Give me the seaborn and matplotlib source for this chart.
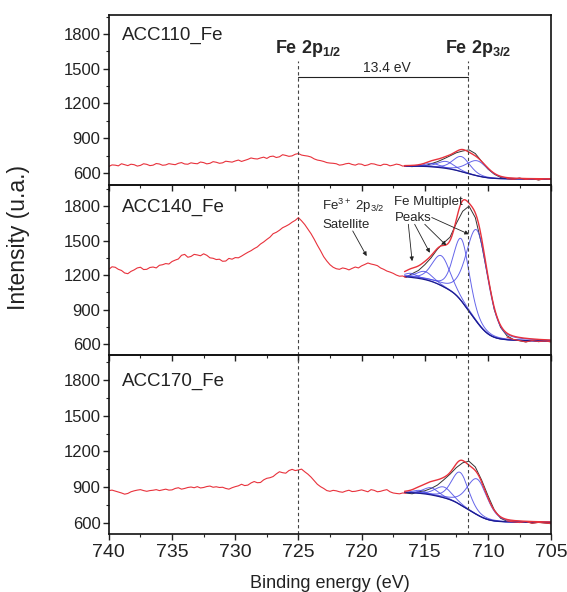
import numpy as np
import pandas as pd
import matplotlib
matplotlib.use("Agg")
import matplotlib.pyplot as plt
from matplotlib.ticker import MultipleLocator
import seaborn as sns

# ---- data ----
samples = ["ACC110_Fe", "ACC140_Fe", "ACC170_Fe"]

# survey part, from 740 eV down to 716.5 eV, one reading every 0.25 eV
red_110 = [657, 670, 668, 662, 680, 672, 664, 676, 672, 660, 666, 680, 675, 664, 668, 682,
           678, 667, 670, 681, 676, 672, 684, 690, 678, 676, 688, 683, 680, 695, 690, 679,
           684, 698, 693, 684, 688, 702, 698, 694, 704, 712, 700, 709, 718, 730, 724, 721,
           730, 737, 726, 742, 746, 734, 740, 758, 752, 744, 748, 762, 768, 755, 750, 746,
           738, 722, 712, 707, 700, 690, 686, 684, 680, 668, 672, 680, 684, 674, 668, 679,
           676, 664, 670, 681, 678, 669, 664, 676, 674, 662, 668, 677, 672, 660, 662]
red_140 = [1250, 1272, 1268, 1250, 1240, 1218, 1212, 1232, 1245, 1262, 1268, 1248, 1250, 1266,
           1270, 1262, 1285, 1290, 1300, 1296, 1318, 1330, 1340, 1372, 1380, 1355, 1362, 1380,
           1375, 1368, 1385, 1372, 1350, 1346, 1335, 1338, 1320, 1322, 1345, 1338, 1352, 1350,
           1365, 1382, 1398, 1412, 1430, 1445, 1470, 1488, 1510, 1530, 1560, 1572, 1590, 1612,
           1625, 1640, 1660, 1676, 1700, 1672, 1640, 1600, 1560, 1512, 1460, 1412, 1360, 1322,
           1290, 1268, 1255, 1250, 1262, 1256, 1245, 1258, 1270, 1262, 1280, 1292, 1305, 1296,
           1290, 1282, 1262, 1250, 1235, 1226, 1215, 1200, 1190, 1192, 1180]
red_170 = [872, 876, 868, 860, 852, 842, 848, 862, 870, 876, 880, 872, 866, 872, 875, 880,
           872, 878, 884, 876, 878, 890, 896, 884, 890, 898, 902, 896, 905, 894, 898, 906,
           910, 900, 904, 898, 900, 890, 884, 896, 905, 912, 925, 914, 918, 936, 948, 938,
           940, 962, 975, 980, 990, 1012, 1030, 1022, 1018, 1040, 1050, 1040, 1045, 1052,
           1030, 1010, 985, 955, 925, 905, 890, 872, 866, 874, 870, 862, 858, 868, 875, 864,
           866, 872, 878, 870, 862, 880, 874, 862, 866, 874, 880, 862, 852, 848, 845, 852, 850]

# raw data in the fitted window, 716.5 -> 705 eV every 0.5 eV
be_fitdata = np.arange(716.5, 704.9, -0.5)
black_110 = [660, 655, 666, 662, 680, 698, 722, 748, 775, 790, 800, 768, 700, 635, 590, 562,
             552, 548, 556, 545, 552, 540, 550, 545]
black_140 = [1180, 1212, 1240, 1290, 1350, 1425, 1480, 1530, 1650, 1755, 1800, 1700, 1468,
             1180, 900, 745, 672, 640, 628, 618, 632, 620, 626, 618]
black_170 = [852, 845, 862, 870, 890, 918, 962, 1010, 1065, 1105, 1118, 1070, 960, 830, 710,
             640, 615, 612, 605, 612, 598, 606, 600, 594]

# red trace after the fitted peaks, 708.5 -> 705 eV
be_tail = np.arange(708.5, 704.9, -0.5)
tail_110 = [552, 546, 556, 545, 551, 542, 550, 546]
tail_140 = [660, 640, 630, 618, 630, 622, 626, 620]
tail_170 = [618, 610, 604, 612, 598, 605, 600, 595]

# fitted multiplet components: centre (eV), height, FWHM (eV)
centers_110 = [710.85, 712.1, 713.3, 714.4]
heights_110 = [130, 130, 60, 30]
fwhm_110 = [2.0, 1.6, 1.6, 1.4]
centers_140 = [710.85, 712.1, 713.7, 715.0, 716.1]
heights_140 = [800, 540, 260, 70, 35]
fwhm_140 = [2.0, 1.5, 1.7, 1.5, 1.2]
centers_170 = [710.85, 712.2, 713.5, 714.5, 715.4]
heights_170 = [300, 270, 90, 60, 25]
fwhm_170 = [1.9, 1.6, 1.6, 1.4, 1.2]
# Shirley background end levels (high BE side, low BE side)
bg_110 = (660, 548)
bg_140 = (1185, 625)
bg_170 = (855, 605)

# y range of each panel
ylims = [(498, 1965), (505, 1985), (508, 2010)]

panels = [
    (red_110, black_110, tail_110, centers_110, heights_110, fwhm_110, bg_110),
    (red_140, black_140, tail_140, centers_140, heights_140, fwhm_140, bg_140),
    (red_170, black_170, tail_170, centers_170, heights_170, fwhm_170, bg_170),
]

RED = "#e8323c"
BLUE = "#4a4ae6"
DARKBLUE = "#1c1c8c"


def pseudo_voigt(x, c, h, w, eta=0.3):
    g = np.exp(-4 * np.log(2) * (x - c) ** 2 / w ** 2)
    l = 1 / (1 + 4 * (x - c) ** 2 / w ** 2)
    return h * ((1 - eta) * g + eta * l)


sns.set_style("ticks")
plt.rcParams["font.family"] = ["Liberation Sans", "DejaVu Sans"]
plt.rcParams["mathtext.fontset"] = "custom"
plt.rcParams["mathtext.rm"] = "Liberation Sans"
plt.rcParams["mathtext.bf"] = "Liberation Sans:bold"
plt.rcParams["mathtext.it"] = "Liberation Sans:italic"

fig = plt.figure(figsize=(5.67, 5.92), dpi=100)
axes = fig.subplots(3, 1, sharex=True,
                    gridspec_kw=dict(hspace=0, height_ratios=[170, 170, 179]))
fig.subplots_adjust(left=0.192, right=0.972, top=0.975, bottom=0.098)

xs = np.linspace(705.0, 716.6, 400)

for ax, name, ylim, (red, black, tail, cen, hgt, fw, bg_lv) in zip(axes, samples, ylims, panels):
    ax.set_facecolor("none")

    comps = [pseudo_voigt(xs, c, h, w) for c, h, w in zip(cen, hgt, fw)]
    total = np.sum(comps, axis=0)
    cum = np.concatenate([[0], np.cumsum((total[1:] + total[:-1]) / 2 * np.diff(xs))])
    bg = bg_lv[1] + (bg_lv[0] - bg_lv[1]) * cum / cum[-1]

    df_black = pd.DataFrame({"be": be_fitdata, "y": black})
    sns.lineplot(data=df_black, x="be", y="y", ax=ax, color="#333333", lw=0.7,
                 estimator=None, sort=False)
    for comp in comps:
        ax.plot(xs, bg + comp, color=BLUE, lw=0.7, alpha=0.85)
    ax.plot(xs, bg, color=DARKBLUE, lw=0.9)
    ax.plot(xs, bg + total, color=RED, lw=1.0)

    be_survey = 740.0 - 0.25 * np.arange(len(red))
    df_red = pd.DataFrame({"be": be_survey, "y": red})
    sns.lineplot(data=df_red, x="be", y="y", ax=ax, color=RED, lw=0.8,
                 estimator=None, sort=False)
    df_tail = pd.DataFrame({"be": be_tail, "y": tail})
    sns.lineplot(data=df_tail, x="be", y="y", ax=ax, color=RED, lw=0.8,
                 estimator=None, sort=False)

    ax.set_xlim(740, 705)
    ax.set_ylim(*ylim)
    ax.xaxis.set_major_locator(MultipleLocator(5))
    ax.xaxis.set_minor_locator(MultipleLocator(2.5))
    ax.yaxis.set_major_locator(MultipleLocator(300))
    ax.yaxis.set_minor_locator(MultipleLocator(150))
    ax.tick_params(which="major", direction="out", length=4, width=1, pad=2,
                   labelsize=12, colors="#222222")
    ax.tick_params(which="minor", direction="out", length=2.2, width=0.8)
    ax.tick_params(axis="x", labelsize=14, pad=3)
    for sp in ax.spines.values():
        sp.set_visible(True)
        sp.set_linewidth(1.2)
        sp.set_color("#111111")
    ax.set_xlabel("")
    ax.set_ylabel("")
    ax.text(739.0, 1785, name, fontsize=13.5, ha="left", va="center", color="#222222")

    # dashed reference lines at the two spin-orbit components
    top = 1569 if ax is axes[0] else ylim[1]
    for xv in (725.0, 711.6):
        ax.plot([xv, xv], [ylim[0], top], color="#444444", lw=0.8, ls=(0, (3, 2.5)))

ax0 = axes[0]
ax0.text(724.2, 1671, r"Fe 2p$_{\mathbf{1/2}}$", fontsize=13, fontweight="bold",
         ha="center", va="center")
ax0.text(710.8, 1671, r"Fe 2p$_{\mathbf{3/2}}$", fontsize=13, fontweight="bold",
         ha="center", va="center")
ax0.plot([725.0, 711.6], [1431, 1431], color="#222222", lw=0.8)
ax0.text(718.0, 1445, "13.4 eV", fontsize=10, ha="center", va="bottom")

ax1 = axes[1]
arrow = dict(arrowstyle="-|>", lw=0.6, color="#222222", mutation_scale=6,
             shrinkA=0, shrinkB=0)
ax1.text(723.1, 1800, r"Fe$^{3+}$ 2p$_{3/2}$", fontsize=9.5, ha="left", va="center")
ax1.text(723.1, 1634, "Satellite", fontsize=9.5, ha="left", va="center")
ax1.annotate("", xy=(719.6, 1365), xytext=(720.7, 1584), arrowprops=arrow)
ax1.text(717.4, 1835, "Fe Multiplet", fontsize=9.5, ha="left", va="center")
ax1.text(717.4, 1695, "Peaks", fontsize=9.5, ha="left", va="center")
for (x0, y0), (x1, y1) in [((716.3, 1642), (716.0, 1321)),
                           ((715.8, 1642), (714.6, 1394)),
                           ((715.0, 1642), (713.3, 1458)),
                           ((714.45, 1701), (711.5, 1555))]:
    ax1.annotate("", xy=(x1, y1), xytext=(x0, y0), arrowprops=arrow)

fig.text(330 / 567, 1 - 583 / 592, "Binding energy (eV)", fontsize=13,
         ha="center", va="center", color="#222222")
fig.text(19 / 567, 1 - 237 / 592, "Intensity (u.a.)", fontsize=16.5, rotation=90,
         ha="center", va="center", color="#222222")

fig.savefig("out.png", dpi=100, facecolor="white")
